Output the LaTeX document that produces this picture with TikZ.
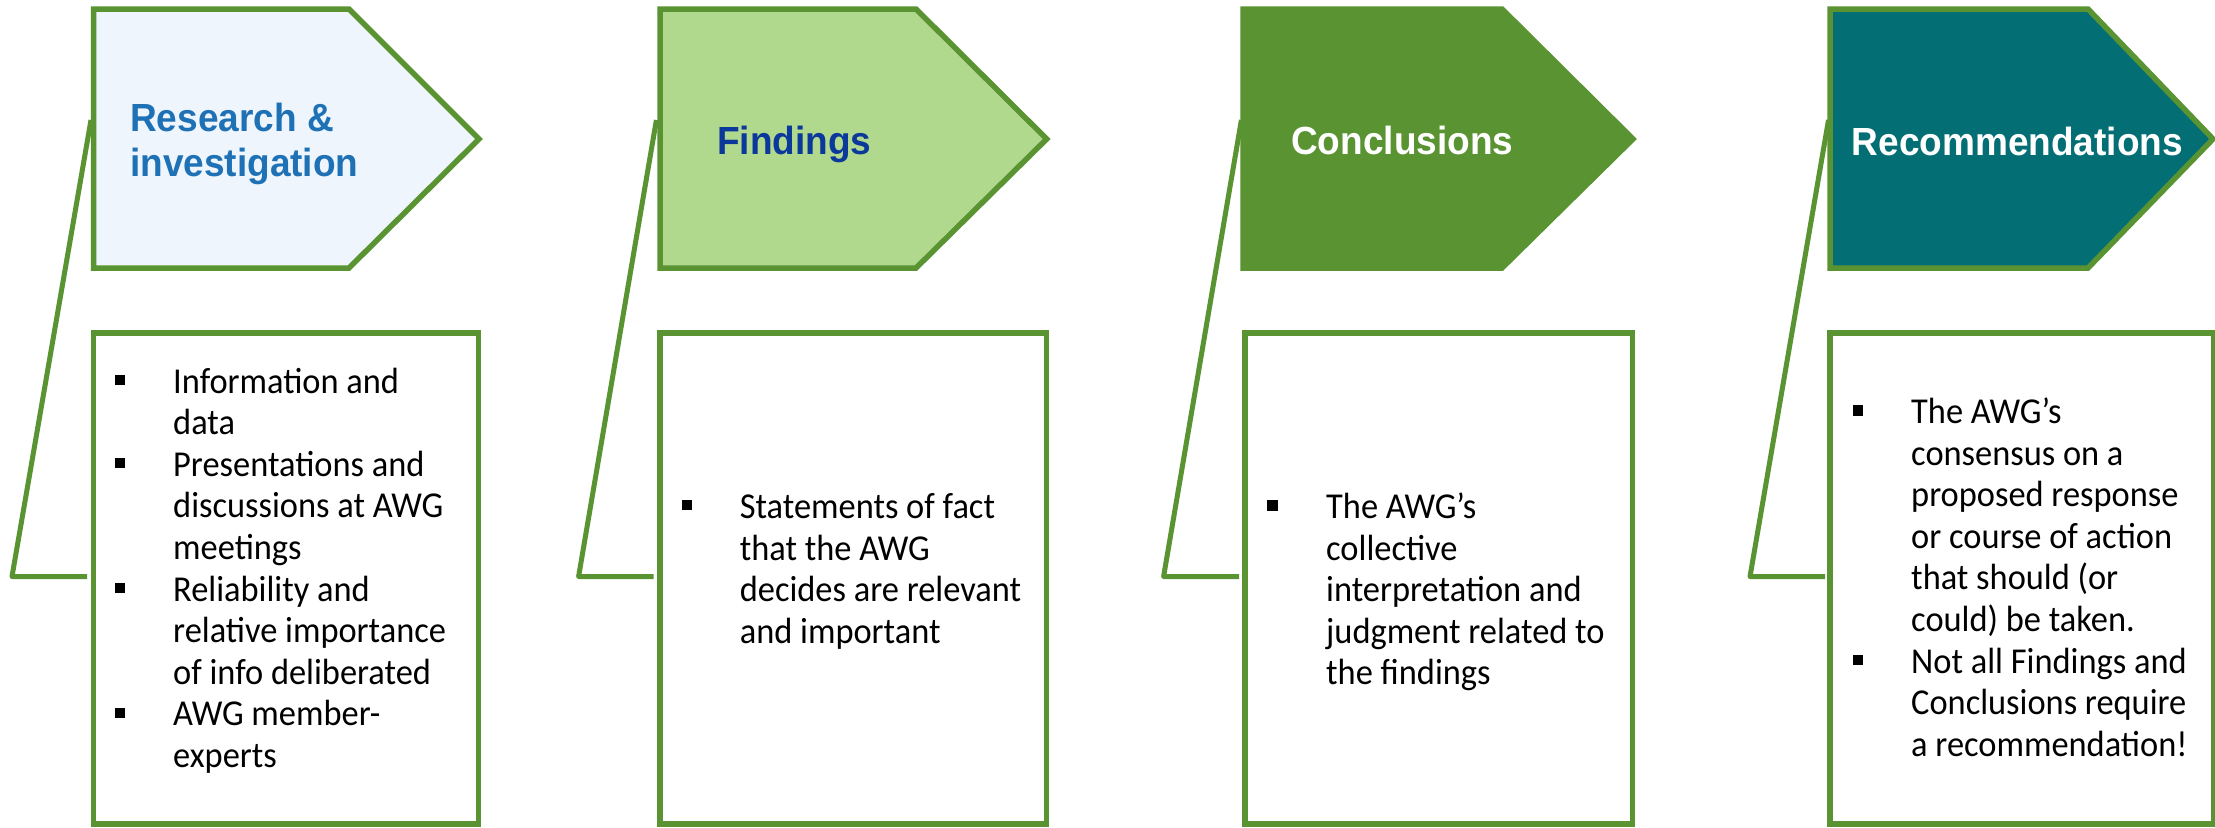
\documentclass[tikz,border=0pt]{standalone}
\usepackage{fontspec}
\setmainfont{Carlito}
\newfontfamily\titlefont{Liberation Sans}
\definecolor{awggreen}{HTML}{5A9331}
\definecolor{rfill}{HTML}{EEF5FC}
\definecolor{ffill}{HTML}{B1D98E}
\definecolor{tealfill}{HTML}{036F74}
\definecolor{rtext}{HTML}{1E71B5}
\definecolor{ftext}{HTML}{0B389B}
\newcommand{\vstretch}[1]{\scalebox{1}[1.06]{#1}}
\tikzset{
  pent/.style={draw=awggreen, line width=5.5pt, line join=miter},
  infobox/.style={draw=awggreen, line width=5.5pt, fill=white},
  callout/.style={draw=awggreen, line width=5pt, line join=round},
  titletext/.style={anchor=base west, inner sep=0pt, font=\titlefont\bfseries\fontsize{37}{45.7}\selectfont},
  bodytext/.style={anchor=base west, inner sep=0pt, font=\fontsize{34.4}{41.6}\selectfont, text=black},
  bulletsq/.style={rectangle, fill=black, minimum size=10.5pt, inner sep=0pt}
}
\begin{document}
\begin{tikzpicture}[x=1pt,y=-1pt]
\useasboundingbox (0,0) rectangle (2215,827);
\fill[white] (0,0) rectangle (2215,827);

% ---------- Panel 1 ----------
\coordinate (c1a) at (91,120);
\coordinate (c1b) at (12,576.5);
\coordinate (c1c) at (87,576.5);
\draw[callout] (c1a) -- (c1b) -- (c1c);
\draw[pent, fill=rfill] (93.6,9) -- (349,9) -- (479,139) -- (349,268) -- (93.6,268) -- cycle;
\draw[infobox] (93.6,333) rectangle (478.6,824);
\node[titletext, text=rtext] (t1a) at (130,131) {\vstretch{Research \&}};
\node[titletext, text=rtext] (t1b) at (130,176.7) {\vstretch{investigation}};
\foreach \t [count=\i from 0] in {Information and, data, Presentations and, discussions at AWG, meetings, Reliability and, relative importance, of info deliberated, AWG member-, experts}
  \node[bodytext] (b1-\i) at (173,{393+41.6*\i}) {\vstretch{\t}};
\foreach \k in {0,2,5,8}
  \node[bulletsq] (s1-\k) at (120,{380+41.6*\k}) {};

% ---------- Panel 2 ----------
\coordinate (c2a) at (656.4,120);
\coordinate (c2b) at (578.6,576.5);
\coordinate (c2c) at (653.6,576.5);
\draw[callout] (c2a) -- (c2b) -- (c2c);
\draw[pent, fill=ffill] (660,9) -- (916,9) -- (1046.7,139) -- (916,268) -- (660,268) -- cycle;
\draw[infobox] (660,333) rectangle (1046.4,824);
\node[titletext, text=ftext] (t2) at (717,154.5) {\vstretch{Findings}};
\foreach \t [count=\i from 0] in {Statements of fact, that the AWG, decides are relevant, and important}
  \node[bodytext] (b2-\i) at (739.6,{518.5+41.6*\i}) {\vstretch{\t}};
\node[bulletsq] (s2-0) at (687,505) {};

% ---------- Panel 3 ----------
\coordinate (c3a) at (1241.4,120);
\coordinate (c3b) at (1163.6,576.5);
\coordinate (c3c) at (1239,576.5);
\draw[callout] (c3a) -- (c3b) -- (c3c);
\draw[pent, fill=awggreen] (1243,9) -- (1502,9) -- (1633,139) -- (1502,268) -- (1243,268) -- cycle;
\draw[infobox] (1245,333) rectangle (1632.5,824);
\node[titletext, text=white] (t3) at (1291,154.5) {\vstretch{Conclusions}};
\foreach \t [count=\i from 0] in {The AWG’s, collective, interpretation and, judgment related to, the findings}
  \node[bodytext] (b3-\i) at (1326,{518.5+41.6*\i}) {\vstretch{\t}};
\node[bulletsq] (s3-0) at (1272.5,505.5) {};

% ---------- Panel 4 ----------
\coordinate (c4a) at (1828.5,120);
\coordinate (c4b) at (1750,576.5);
\coordinate (c4c) at (1825,576.5);
\draw[callout] (c4a) -- (c4b) -- (c4c);
\draw[pent, fill=tealfill] (1830,9) -- (2088,9) -- (2213,139) -- (2088,268) -- (1830,268) -- cycle;
\draw[infobox] (1830,333) rectangle (2214,824);
\node[titletext, text=white] (t4) at (1851.7,155.5) {\vstretch{Recommendations}};
\foreach \t [count=\i from 0] in {The AWG’s, consensus on a, proposed response, or course of action, {that should (or}, {could) be taken.}, Not all Findings and, Conclusions require, a recommendation!}
  \node[bodytext] (b4-\i) at (1911,{423.5+41.6*\i}) {\vstretch{\t}};
\node[bulletsq] (s4-0) at (1858,410.5) {};
\node[bulletsq] (s4-6) at (1858,660) {};
\end{tikzpicture}
\end{document}
